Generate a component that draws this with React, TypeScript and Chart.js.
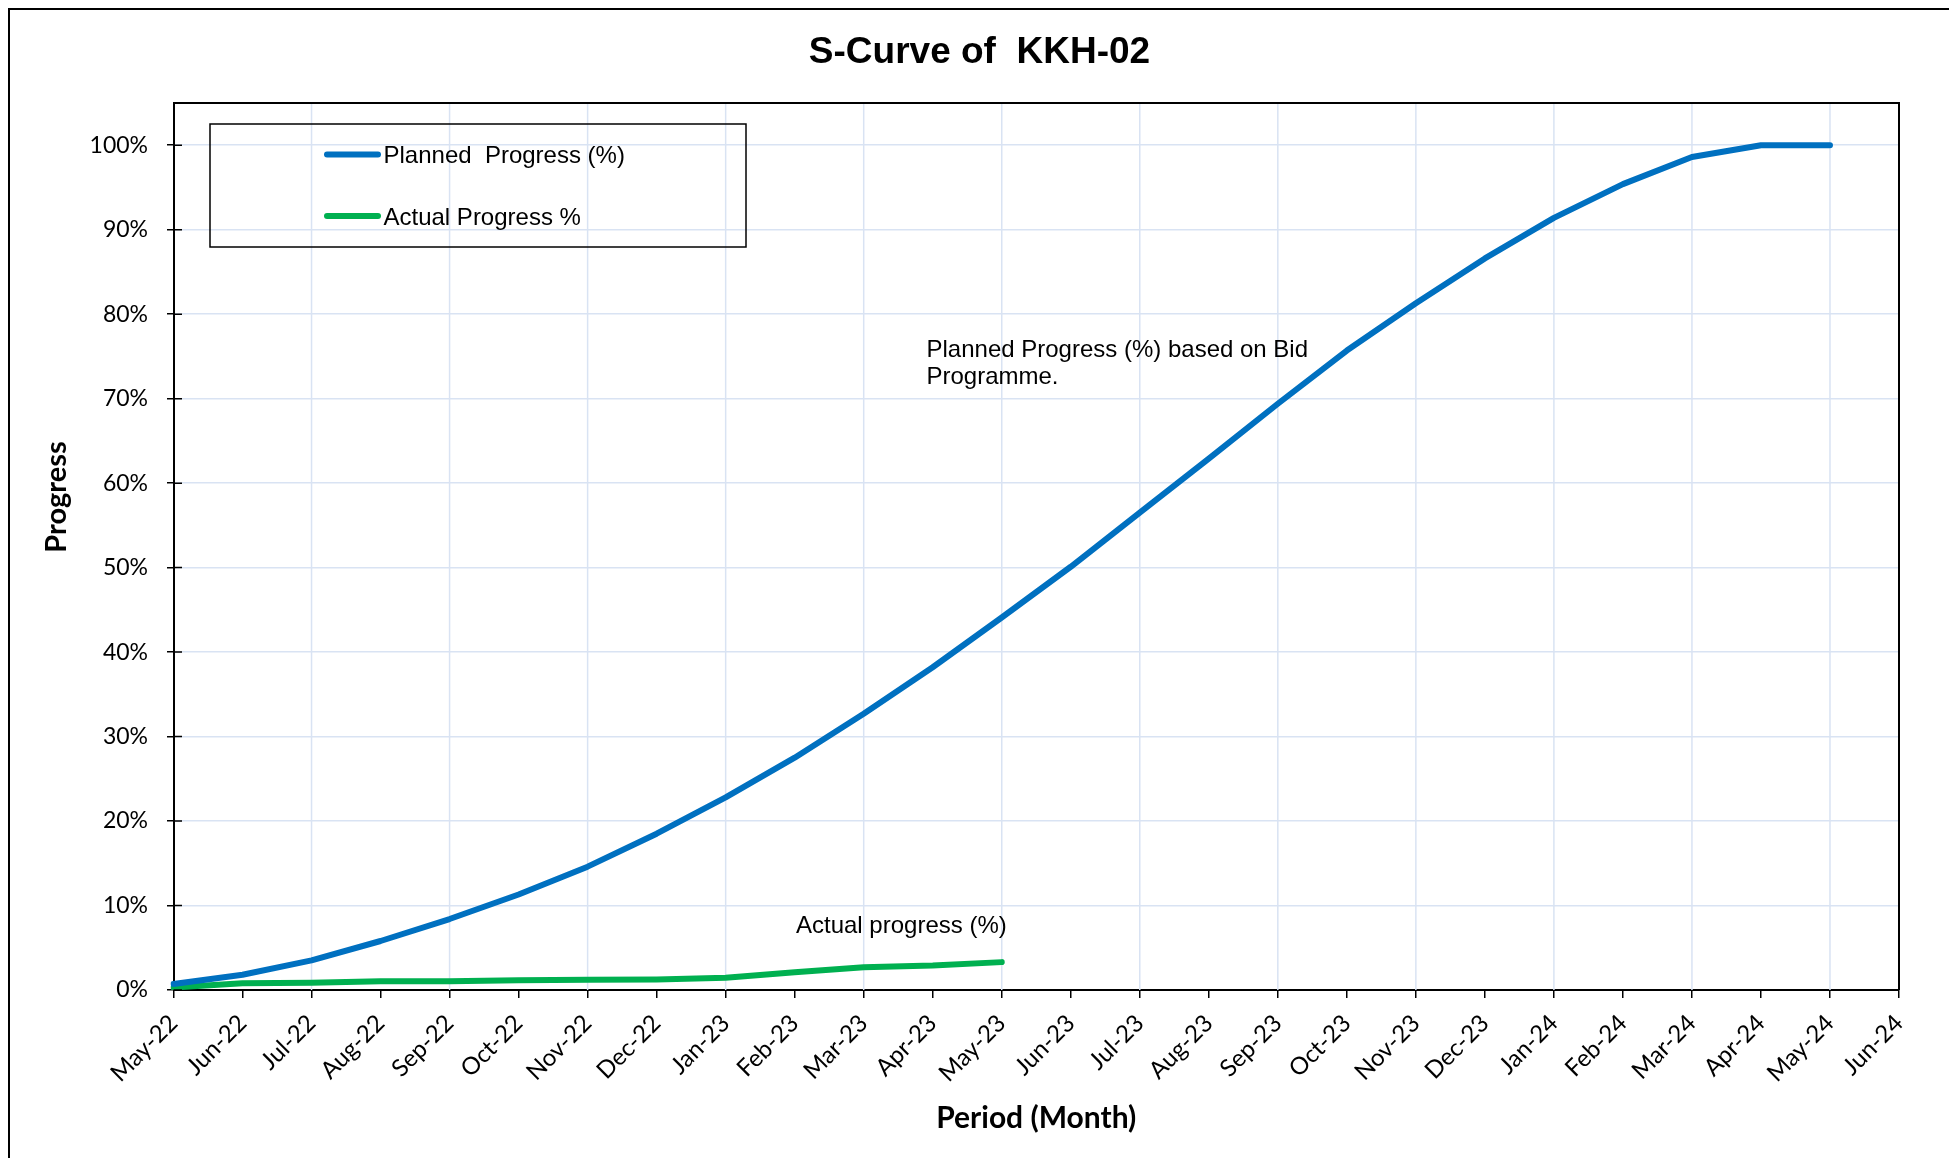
import { useEffect, useRef } from 'react';
import { Chart, registerables } from 'chart.js';

Chart.register(...registerables);

const months = [
  'May-22', 'Jun-22', 'Jul-22', 'Aug-22', 'Sep-22', 'Oct-22', 'Nov-22', 'Dec-22',
  'Jan-23', 'Feb-23', 'Mar-23', 'Apr-23', 'May-23', 'Jun-23', 'Jul-23', 'Aug-23',
  'Sep-23', 'Oct-23', 'Nov-23', 'Dec-23', 'Jan-24', 'Feb-24', 'Mar-24', 'Apr-24',
  'May-24', 'Jun-24',
];

const plannedProgress = [
  0.7, 1.8, 3.5, 5.8, 8.4, 11.3, 14.6, 18.5, 22.8, 27.5, 32.7, 38.2, 44.1,
  50.1, 56.5, 62.9, 69.4, 75.7, 81.3, 86.6, 91.4, 95.4, 98.6, 100, 100, null,
];

const actualProgress = [
  0.3, 0.8, 0.85, 1.05, 1.05, 1.15, 1.2, 1.25, 1.45, 2.1, 2.7, 2.9, 3.3,
  null, null, null, null, null, null, null, null, null, null, null, null, null,
];

const yTickValues = [0, 10, 20, 30, 40, 50, 60, 70, 80, 90, 100];

const TITLE = 'S-Curve of  KKH-02';
const Y_TITLE = 'Progress';
const X_TITLE = 'Period (Month)';
const LEGEND_LABELS = ['Planned  Progress (%)', 'Actual Progress %'];
const NOTE_PLANNED = ['Planned Progress (%) based on Bid', 'Programme.'];
const NOTE_ACTUAL = 'Actual progress (%)';

const BLUE = '#0070C0';
const GREEN = '#00B050';
const GRID = '#d9e3f3';
const ARIAL = '"Liberation Sans", Arial, sans-serif';
const CAL = 'Lato, "Open Sans", sans-serif';

const overlay = {
  id: 'overlay',
  beforeDatasetsDraw(chart: any) {
    const { ctx, chartArea: a, scales } = chart;
    const x = scales.x;
    ctx.save();
    ctx.strokeStyle = GRID;
    ctx.lineWidth = 1.5;
    ctx.beginPath();
    for (let i = 2; i < months.length - 1; i += 2) {
      const px = x.getPixelForValue(i);
      ctx.moveTo(px, a.top);
      ctx.lineTo(px, a.bottom);
    }
    ctx.stroke();
    ctx.restore();
  },
  afterDraw(chart: any) {
    const { ctx, chartArea: a, scales } = chart;
    const y = scales.y;
    ctx.save();
    // plot box top / right
    ctx.strokeStyle = '#000';
    ctx.lineWidth = 2;
    ctx.beginPath();
    ctx.moveTo(a.left, a.top);
    ctx.lineTo(a.right, a.top);
    ctx.lineTo(a.right, a.bottom);
    ctx.stroke();
    // inner part of y ticks
    ctx.lineWidth = 1.5;
    ctx.beginPath();
    for (const v of yTickValues) {
      const py = y.getPixelForValue(v);
      ctx.moveTo(a.left, py);
      ctx.lineTo(a.left + 8.5, py);
    }
    ctx.stroke();

    ctx.fillStyle = '#000';
    // title
    ctx.font = `bold 37px ${ARIAL}`;
    ctx.textAlign = 'center';
    ctx.textBaseline = 'alphabetic';
    ctx.fillText(TITLE, chart.width / 2, 53);

    // y title
    ctx.save();
    ctx.translate(47, 487);
    ctx.rotate(-Math.PI / 2);
    ctx.font = `bold 29px ${CAL}`;
    ctx.textAlign = 'center';
    ctx.textBaseline = 'middle';
    ctx.fillText(Y_TITLE, 0, 0);
    ctx.restore();

    // x title
    ctx.font = `bold 30px ${CAL}`;
    ctx.textAlign = 'center';
    ctx.textBaseline = 'middle';
    ctx.fillText(X_TITLE, (a.left + a.right) / 2, 1108);

    // legend
    ctx.lineWidth = 1.5;
    ctx.strokeStyle = '#000';
    ctx.strokeRect(200, 114, 536, 123);
    const legendColors = [BLUE, GREEN];
    const legendY = [144.5, 206];
    ctx.lineCap = 'round';
    ctx.font = `24px ${ARIAL}`;
    ctx.textAlign = 'left';
    ctx.textBaseline = 'alphabetic';
    for (let i = 0; i < 2; i++) {
      ctx.strokeStyle = legendColors[i];
      ctx.lineWidth = 6;
      ctx.beginPath();
      ctx.moveTo(317, legendY[i]);
      ctx.lineTo(368, legendY[i]);
      ctx.stroke();
      ctx.fillText(LEGEND_LABELS[i], 373.5, legendY[i] + 8.5);
    }

    // annotations
    ctx.fillText(NOTE_PLANNED[0], 916.5, 346.5);
    ctx.fillText(NOTE_PLANNED[1], 916.5, 374);
    ctx.fillText(NOTE_ACTUAL, 786, 923);
    ctx.restore();
  },
};

export default function App() {
  const ref = useRef<HTMLCanvasElement | null>(null);

  useEffect(() => {
    if (!ref.current) return;
    const chart = new Chart(ref.current, {
      type: 'line',
      data: {
        labels: months,
        datasets: [
          {
            label: LEGEND_LABELS[0],
            data: plannedProgress,
            borderColor: BLUE,
            backgroundColor: BLUE,
            borderWidth: 6,
            borderCapStyle: 'round',
            borderJoinStyle: 'round',
            pointRadius: 0,
            tension: 0,
            fill: false,
          },
          {
            label: LEGEND_LABELS[1],
            data: actualProgress,
            borderColor: GREEN,
            backgroundColor: GREEN,
            borderWidth: 6,
            borderCapStyle: 'round',
            borderJoinStyle: 'round',
            pointRadius: 0,
            tension: 0,
            fill: false,
          },
        ],
      },
      options: {
        responsive: false,
        animation: false,
        layout: { padding: { top: 93, right: 50, left: 0, bottom: 0 } },
        plugins: {
          legend: { display: false },
          title: { display: false },
          tooltip: { enabled: false },
        },
        scales: {
          x: {
            type: 'category',
            offset: false,
            grid: {
              drawOnChartArea: false,
              color: '#000',
              lineWidth: 1.5,
              tickColor: '#000',
              tickLength: 8,
              tickWidth: 1.5,
            },
            border: { display: true, color: '#000', width: 2 },
            ticks: {
              autoSkip: false,
              maxRotation: 45,
              minRotation: 45,
              padding: 11,
              color: '#000',
              font: { family: CAL, size: 24 },
            },
            afterFit: (s: any) => {
              s.height = 168;
            },
          },
          y: {
            type: 'linear',
            min: 0,
            max: 105,
            grid: {
              color: GRID,
              lineWidth: 1.5,
              tickColor: '#000',
              tickLength: 6.5,
              tickWidth: 1.5,
            },
            border: { display: true, color: '#000', width: 2 },
            ticks: {
              stepSize: 10,
              includeBounds: false,
              padding: 19,
              color: '#000',
              font: { family: CAL, size: 23 },
              callback: (v: any) => `${v}%`,
            },
            afterFit: (s: any) => {
              s.width = 163.5;
            },
          },
        },
      },
      plugins: [overlay],
    } as any);
    return () => chart.destroy();
  }, []);

  return (
    <div
      style={{
        width: 1943,
        height: 1150,
        boxSizing: 'border-box',
        borderTop: '2px solid #000',
        borderLeft: '2px solid #000',
        borderRight: '2px solid #000',
        overflow: 'hidden',
        background: '#fff',
      }}
    >
      <canvas ref={ref} width={1939} height={1148} style={{ display: 'block' }} />
    </div>
  );
}
